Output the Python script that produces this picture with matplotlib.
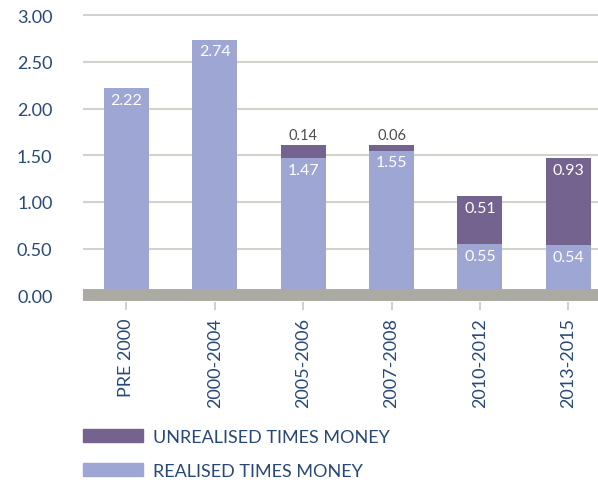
import numpy as np
import matplotlib
matplotlib.use("Agg")
import matplotlib.pyplot as plt
from matplotlib.patches import Patch

plt.rcParams.update({
    "font.family": ["Lato", "DejaVu Sans"],
    "font.size": 13,
})

# ---- data ----
periods = ["PRE 2000", "2000-2004", "2005-2006", "2007-2008", "2010-2012", "2013-2015"]
realised = [2.22, 2.74, 1.47, 1.55, 0.55, 0.54]
unrealised = [0.0, 0.0, 0.14, 0.06, 0.51, 0.93]
yticks = [0.0, 0.5, 1.0, 1.5, 2.0, 2.5, 3.0]

# ---- colours ----
C_REAL = "#9EA6D4"
C_UNREAL = "#74628F"
C_BAND = "#ABABA3"
C_GRID = "#D2D2CC"
C_TEXT = "#284878"
C_LABEL = "#4D4D4D"

fig = plt.figure(figsize=(5.98, 4.81), dpi=100)
ax = fig.add_axes([83 / 598, (481 - 302.8) / 481, 515 / 598, 288.4 / 481])

x = np.arange(len(periods))
w = 0.51

ax.bar(x, realised, width=w, color=C_REAL, zorder=2)
ax.bar(x, unrealised, width=w, bottom=realised, color=C_UNREAL, zorder=2)

# grey base band at zero
ax.axhline(0, color=C_BAND, lw=8.6, zorder=3, solid_capstyle="butt")

# value labels
for xi, r, u in zip(x, realised, unrealised):
    ax.annotate(f"{r:.2f}", (xi, r), xytext=(0, -8.5), textcoords="offset points",
                ha="center", va="center", color="white", fontsize=11.5, zorder=4)
    if u <= 0:
        continue
    if u < 0.3:
        ax.annotate(f"{u:.2f}", (xi, r + u), xytext=(0, 7.5), textcoords="offset points",
                    ha="center", va="center", color=C_LABEL, fontsize=10.5, zorder=4)
    else:
        ax.annotate(f"{u:.2f}", (xi, r + u), xytext=(0, -8.5), textcoords="offset points",
                    ha="center", va="center", color="white", fontsize=11.5, zorder=4)

ax.set_xlim(-0.49, 5.336)
ax.set_ylim(-0.07, 3.02)

ax.set_yticks(yticks)
ax.set_yticklabels([f"{v:.2f}" for v in yticks], color=C_TEXT, fontsize=13)
ax.tick_params(axis="y", length=0, pad=22)
ax.grid(axis="y", color=C_GRID, lw=1.5, zorder=0)
ax.set_axisbelow(True)

ax.set_xticks(x)
ax.set_xticklabels(periods, rotation=90, color=C_TEXT, fontsize=13, va="top")
ax.tick_params(axis="x", length=6, width=1.2, color="#C8C8C2", pad=5)

for s in ax.spines.values():
    s.set_visible(False)

handles = [Patch(color=C_UNREAL, label="UNREALISED TIMES MONEY"),
           Patch(color=C_REAL, label="REALISED TIMES MONEY")]
fig.legend(handles=handles, loc="upper left", bbox_to_anchor=(83 / 598, 1 - 430 / 481),
           frameon=False, fontsize=13, handlelength=3.3, handleheight=0.7,
           handletextpad=0.55, labelspacing=0.98, borderpad=0, borderaxespad=0,
           labelcolor=C_TEXT)

fig.savefig("out.png", dpi=100, facecolor="white")
